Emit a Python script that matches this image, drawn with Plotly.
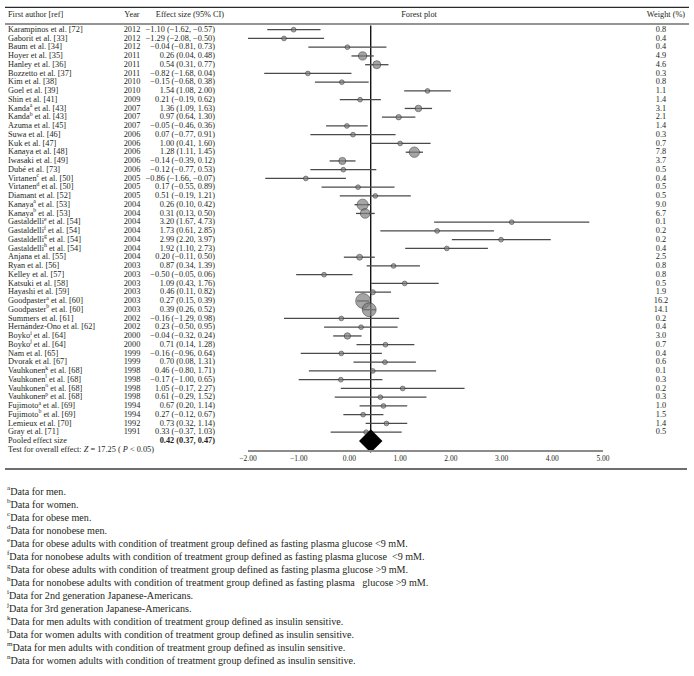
import plotly.graph_objects as go

W, H = 694, 676

authors = [
    "Karampinos et al. [72]", "Gaborit et al. [33]", "Baum et al. [34]", "Hoyer et al. [35]",
    "Hanley et al. [36]", "Bozzetto et al. [37]", "Kim et al. [38]", "Goel et al. [39]",
    "Shin et al. [41]", "Kanda<sup>a</sup> et al. [43]", "Kanda<sup>b</sup> et al. [43]",
    "Azuma et al. [45]", "Suwa et al. [46]", "Kuk et al. [47]", "Kanaya et al. [48]",
    "Iwasaki et al. [49]", "Dubé et al. [73]", "Virtanen<sup>c</sup> et al. [50]",
    "Virtanen<sup>d</sup> et al. [50]", "Diamant et al. [52]", "Kanaya<sup>a</sup> et al. [53]",
    "Kanaya<sup>b</sup> et al. [53]", "Gastaldelli<sup>e</sup> et al. [54]",
    "Gastaldelli<sup>f</sup> et al. [54]", "Gastaldelli<sup>g</sup> et al. [54]",
    "Gastaldelli<sup>h</sup> et al. [54]", "Anjana et al. [55]", "Ryan et al. [56]",
    "Kelley et al. [57]", "Katsuki et al. [58]", "Hayashi et al. [59]",
    "Goodpaster<sup>a</sup> et al. [60]", "Goodpaster<sup>b</sup> et al. [60]",
    "Summers et al. [61]", "Hernández-Ono et al. [62]", "Boyko<sup>i</sup> et al. [64]",
    "Boyko<sup>j</sup> et al. [64]", "Nam et al. [65]", "Dvorak et al. [67]",
    "Vauhkonen<sup>k</sup> et al. [68]", "Vauhkonen<sup>l</sup> et al. [68]",
    "Vauhkonen<sup>o</sup> et al. [68]", "Vauhkonen<sup>p</sup> et al. [68]",
    "Fujimoto<sup>a</sup> et al. [69]", "Fujimoto<sup>b</sup> et al. [69]",
    "Lemieux et al. [70]", "Gray et al. [71]",
]
years = [2012, 2012, 2012, 2011, 2011, 2011, 2010, 2010, 2009, 2007, 2007, 2007, 2006, 2006,
         2006, 2006, 2006, 2005, 2005, 2005, 2004, 2004, 2004, 2004, 2004, 2004, 2004, 2003,
         2003, 2003, 2003, 2003, 2003, 2002, 2002, 2000, 2000, 1999, 1999, 1998, 1998, 1998,
         1998, 1994, 1994, 1992, 1991]
effects = [-1.10, -1.29, -0.04, 0.26, 0.54, -0.82, -0.15, 1.54, 0.21, 1.36, 0.97, -0.05, 0.07,
           1.00, 1.28, -0.14, -0.12, -0.86, 0.17, 0.51, 0.26, 0.31, 3.20, 1.73, 2.99, 1.92, 0.20,
           0.87, -0.50, 1.09, 0.46, 0.27, 0.39, -0.16, 0.23, -0.04, 0.71, -0.16, 0.70, 0.46,
           -0.17, 1.05, 0.61, 0.67, 0.27, 0.73, 0.33]
ci_low = [-1.62, -2.08, -0.81, 0.04, 0.31, -1.68, -0.68, 1.08, -0.19, 1.09, 0.64, -0.46, -0.77,
          0.41, 1.11, -0.39, -0.77, -1.66, -0.55, -0.19, 0.10, 0.13, 1.67, 0.61, 2.02, 1.10,
          -0.11, 0.34, -1.05, 0.43, 0.11, 0.15, 0.26, -1.29, -0.50, -0.32, 0.14, -0.96, 0.08,
          -0.80, -1.00, -0.17, -0.29, 0.20, -0.12, 0.32, -0.37]
ci_high = [-0.57, -0.50, 0.73, 0.48, 0.77, 0.04, 0.38, 2.00, 0.62, 1.63, 1.30, 0.36, 0.91, 1.60,
           1.45, 0.12, 0.53, -0.07, 0.89, 1.21, 0.42, 0.50, 4.73, 2.85, 3.97, 2.73, 0.50, 1.39,
           0.06, 1.76, 0.82, 0.39, 0.52, 0.98, 0.95, 0.24, 1.28, 0.64, 1.31, 1.71, 0.65, 2.27,
           1.52, 1.14, 0.67, 1.14, 1.03]
ci_labels = [
    "−1.10 (−1.62, −0.57)", "−1.29 (−2.08, −0.50)", "−0.04 (−0.81, 0.73)", "0.26 (0.04, 0.48)",
    "0.54 (0.31, 0.77)", "−0.82 (−1.68, 0.04)", "−0.15 (−0.68, 0.38)", "1.54 (1.08, 2.00)",
    "0.21 (−0.19, 0.62)", "1.36 (1.09, 1.63)", "0.97 (0.64, 1.30)", "−0.05 (−0.46, 0.36)",
    "0.07 (−0.77, 0.91)", "1.00 (0.41, 1.60)", "1.28 (1.11, 1.45)", "−0.14 (−0.39, 0.12)",
    "−0.12 (−0.77, 0.53)", "−0.86 (−1.66, −0.07)", "0.17 (−0.55, 0.89)", "0.51 (−0.19, 1.21)",
    "0.26 (0.10, 0.42)", "0.31 (0.13, 0.50)", "3.20 (1.67, 4.73)", "1.73 (0.61, 2.85)",
    "2.99 (2.20, 3.97)", "1.92 (1.10, 2.73)", "0.20 (−0.11, 0.50)", "0.87 (0.34, 1.39)",
    "−0.50 (−0.05, 0.06)", "1.09 (0.43, 1.76)", "0.46 (0.11, 0.82)", "0.27 (0.15, 0.39)",
    "0.39 (0.26, 0.52)", "−0.16 (−1.29, 0.98)", "0.23 (−0.50, 0.95)", "−0.04 (−0.32, 0.24)",
    "0.71 (0.14, 1.28)", "−0.16 (−0.96, 0.64)", "0.70 (0.08, 1.31)", "0.46 (−0.80, 1.71)",
    "−0.17 (−1.00, 0.65)", "1.05 (−0.17, 2.27)", "0.61 (−0.29, 1.52)", "0.67 (0.20, 1.14)",
    "0.27 (−0.12, 0.67)", "0.73 (0.32, 1.14)", "0.33 (−0.37, 1.03)",
]
weights = [0.8, 0.4, 0.4, 4.9, 4.6, 0.3, 0.8, 1.1, 1.4, 3.1, 2.1, 1.4, 0.3, 0.7, 7.8, 3.7, 0.5,
           0.4, 0.5, 0.5, 9.0, 6.7, 0.1, 0.2, 0.2, 0.4, 2.5, 0.8, 0.8, 0.5, 1.9, 16.2, 14.1,
           0.2, 0.4, 3.0, 0.7, 0.4, 0.6, 0.1, 0.3, 0.2, 0.3, 1.0, 1.5, 1.4, 0.5]
pooled_effect = 0.42
pooled_label = "0.42 (0.37, 0.47)"
overall_test = "Test for overall effect: <i>Z</i> = 17.25 ( <i>P</i> &lt; 0.05)"
headers = ["First author [ref]", "Year", "Effect size (95% CI)", "Forest plot", "Weight (%)"]
x_ticks = [-2, -1, 0, 1, 2, 3, 4, 5]
footnotes = [
    ("a", "Data for men."),
    ("b", "Data for women."),
    ("c", "Data for obese men."),
    ("d", "Data for nonobese men."),
    ("e", "Data for obese adults with condition of treatment group defined as fasting plasma glucose &lt;9 mM."),
    ("f", "Data for nonobese adults with condition of treatment group defined as fasting plasma glucose &nbsp;&lt;9 mM."),
    ("g", "Data for obese adults with condition of treatment group defined as fasting plasma glucose &gt;9 mM."),
    ("h", "Data for nonobese adults with condition of treatment group defined as fasting plasma &nbsp;&nbsp;glucose &gt;9 mM."),
    ("i", "Data for 2nd generation Japanese-Americans."),
    ("j", "Data for 3rd generation Japanese-Americans."),
    ("k", "Data for men adults with condition of treatment group defined as insulin sensitive."),
    ("l", "Data for women adults with condition of treatment group defined as insulin sensitive."),
    ("m", "Data for men adults with condition of treatment group defined as insulin sensitive."),
    ("n", "Data for women adults with condition of treatment group defined as insulin sensitive."),
]

# ---- layout geometry (pixels) ----
ROW0, ROWH = 29.7, 8.75
FONT = "Liberation Serif"
TXT = "#231f20"
TS = 8.3


def px(p):
    return p / W


def py(p):
    return 1 - p / H


def prow(p):
    """pixel y -> row units of the y axis"""
    return (p - ROW0) / ROWH


n = len(authors)
rows = list(range(n))
pooled_row = n
test_row = n + 1

fig = go.Figure()


def text_trace(xs, ys, texts, pos, size=TS):
    fig.add_trace(go.Scatter(x=xs, y=ys, text=texts, mode="text", textposition=pos,
                             textfont=dict(family=FONT, size=size, color=TXT),
                             xaxis="x", yaxis="y", hoverinfo="skip", showlegend=False,
                             cliponaxis=False))


# ---- forest plot on x2 ----
lx, ly = [], []
for i in rows:
    lx += [ci_low[i], ci_high[i], None]
    ly += [i, i, None]
fig.add_trace(go.Scatter(x=lx, y=ly, mode="lines", line=dict(color="#4a4a4a", width=1.3),
                         xaxis="x2", yaxis="y", hoverinfo="skip", showlegend=False,
                         cliponaxis=False))
sizes = [max(4.7, 3.7 * w ** 0.5) for w in weights]
fig.add_trace(go.Scatter(x=effects, y=rows, mode="markers", xaxis="x2", yaxis="y",
                         marker=dict(size=sizes, color="#7f7f7f",
                                     line=dict(color="#2b2b2b", width=0.8)),
                         hoverinfo="skip", showlegend=False, cliponaxis=False))
fig.add_trace(go.Scatter(x=[pooled_effect], y=[pooled_row], mode="markers", xaxis="x2", yaxis="y",
                         marker=dict(symbol="diamond", size=18, color="black"),
                         hoverinfo="skip", showlegend=False, cliponaxis=False))

# ---- table text on pixel axis x ----
hrow = prow(15)
text_trace([8], [hrow], [headers[0]], "middle right")
text_trace([132, 190, 419, 666], [hrow] * 4, headers[1:], "middle center")

text_trace([8] * n, rows, authors, "middle right")
text_trace([132] * n, rows, [str(y) for y in years], "middle center")
text_trace([215] * n, rows, ci_labels, "middle left")
text_trace([661] * n, rows, [f"{w:.1f}" for w in weights], "middle center")

text_trace([8, 8], [pooled_row, test_row], ["Pooled effect size", overall_test], "middle right")
text_trace([215], [pooled_row], ["<b>" + pooled_label + "</b>"], "middle left")

text_trace([7] * len(footnotes), [prow(492 + 13 * k) for k in range(len(footnotes))],
           [f"<sup>{s}</sup>{t}" for s, t in footnotes], "middle right", 10.1)

shapes = [
    dict(type="line", xref="x2", yref="paper", x0=pooled_effect, x1=pooled_effect,
         y0=py(25.5), y1=py(451), line=dict(color="black", width=1.3), layer="below"),
    dict(type="line", xref="paper", yref="paper", x0=px(5), x1=px(689),
         y0=py(7.3), y1=py(7.3), line=dict(color="#2b2b2b", width=1.3)),
    dict(type="line", xref="paper", yref="paper", x0=px(5), x1=px(689),
         y0=py(24), y1=py(24), line=dict(color="#2b2b2b", width=1.1)),
    dict(type="line", xref="paper", yref="paper", x0=px(5), x1=px(687),
         y0=py(469), y1=py(469), line=dict(color="#6e6e6e", width=2.2)),
]

fig.update_layout(
    width=W, height=H,
    margin=dict(l=0, r=0, t=0, b=0, autoexpand=False),
    paper_bgcolor="white", plot_bgcolor="rgba(0,0,0,0)",
    showlegend=False,
    shapes=shapes,
    xaxis=dict(domain=[0, 1], range=[0, W], visible=False, fixedrange=True, anchor="y"),
    xaxis2=dict(domain=[px(248), px(603)], range=[-2, 5], anchor="free", position=py(451),
                showline=True, linecolor="#8c8c8c", linewidth=2, showgrid=False,
                zeroline=False, ticks="", tickvals=x_ticks, tickformat=".2f",
                tickfont=dict(family=FONT, size=7.5, color=TXT), fixedrange=True,
                automargin=False),
    yaxis=dict(domain=[0, 1], range=[prow(H), prow(0)], visible=False, fixedrange=True,
               anchor="x"),
)

fig.write_html("out.html", config={"displayModeBar": False, "staticPlot": True},
               post_script="document.body.style.margin='0px';document.body.style.overflow='hidden';")
